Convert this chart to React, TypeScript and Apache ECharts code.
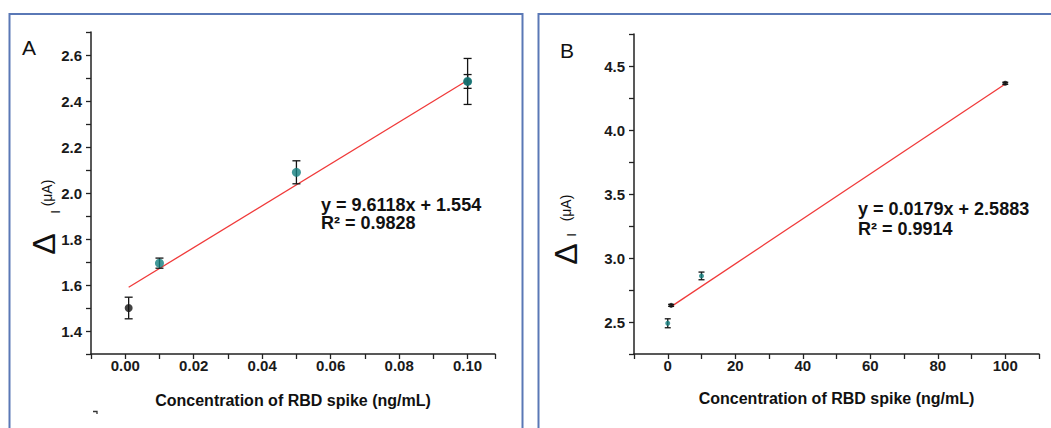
import React, { useEffect, useRef } from "react";
import * as echarts from "echarts";

// Panel A data (concentration in ng/mL, ΔI in µA)
const aTealConc = [0.01, 0.05, 0.1];
const aTealSignal = [1.695, 2.09, 2.485];
const aTealErr = [0.022, 0.05, 0.03];
const aBlackConc = [0.001, 0.1];
const aBlackSignal = [1.5, 2.485];
const aBlackErr = [0.047, 0.1];
const aFitX = [0.001, 0.1];
const aFitY = [1.59, 2.49];
const aEquation = ["y = 9.6118x + 1.554", "R² = 0.9828"];

// Panel B data
const bTealConc = [0, 10];
const bTealSignal = [2.49, 2.86];
const bTealErr = [0.035, 0.03];
const bBlackConc = [1, 100];
const bBlackSignal = [2.63, 4.365];
const bBlackErr = [0.008, 0.008];
const bFitX = [1, 100];
const bFitY = [2.62, 4.36];
const bEquation = ["y = 0.0179x + 2.5883", "R² = 0.9914"];

const xName = "Concentration of RBD spike (ng/mL)";

const FONT = "'Liberation Sans', Arial, sans-serif";
const TEAL = "#14807f";
const BLACK = "#141414";
const RED = "#f03a3a";
const FRAME = "#5a78b6";

function zip3(x: number[], y: number[], e: number[]) {
  return x.map((v, i) => [v, y[i], e[i]]);
}

function errorSeries(data: number[][], idx: number, hw: number, color: string) {
  return {
    type: "custom",
    xAxisIndex: idx,
    yAxisIndex: idx,
    data,
    encode: { x: 0, y: 1 },
    z: 3,
    renderItem: (params: any, api: any) => {
      const x = api.value(0);
      const y = api.value(1);
      const e = api.value(2);
      const top = api.coord([x, y + e]);
      const bot = api.coord([x, y - e]);
      const st = { stroke: color, lineWidth: 1.3 };
      return {
        type: "group",
        children: [
          { type: "line", shape: { x1: top[0], y1: top[1], x2: bot[0], y2: bot[1] }, style: st },
          { type: "line", shape: { x1: top[0] - hw, y1: top[1], x2: top[0] + hw, y2: top[1] }, style: st },
          { type: "line", shape: { x1: bot[0] - hw, y1: bot[1], x2: bot[0] + hw, y2: bot[1] }, style: st },
        ],
      };
    },
  };
}

const axisCommon = {
  axisLine: { show: true, onZero: false, lineStyle: { color: "#222", width: 1.5 } },
  axisTick: { show: true, inside: false, length: 5, lineStyle: { color: "#222", width: 1.3 } },
  splitLine: { show: false },
};

const labelStyle = {
  fontFamily: FONT,
  fontWeight: "bold" as const,
  fontSize: 15,
  color: "#1a1a1a",
};

export default function App() {
  const ref = useRef<HTMLDivElement>(null);

  useEffect(() => {
    if (!ref.current) return;
    const chart = echarts.init(ref.current, null, { renderer: "svg" });

    const textEl = (text: string, x: number, y: number, size: number, weight: string, align = "left") => ({
      type: "text",
      x,
      y,
      style: {
        text,
        fontFamily: FONT,
        fontSize: size,
        fontWeight: weight,
        fill: "#111",
        textAlign: align,
        textVerticalAlign: "middle",
      },
    });

    const rotText = (text: string, x: number, y: number, size: number) => ({
      type: "text",
      x,
      y,
      rotation: Math.PI / 2,
      style: { text, fontFamily: FONT, fontSize: size, fill: "#111", textAlign: "center", textVerticalAlign: "middle" },
    });

    const option: any = {
      animation: false,
      grid: [
        { left: 91, top: 32, width: 404, height: 322 },
        { left: 634, top: 34, width: 405, height: 320 },
      ],
      xAxis: [
        {
          gridIndex: 0,
          type: "value",
          min: -0.01,
          max: 0.108,
          interval: 0.01,
          ...axisCommon,
          axisLabel: {
            ...labelStyle,
            margin: 4,
            showMinLabel: true,
            showMaxLabel: true,
            formatter: (v: number) => {
              const k = Math.round(v * 100);
              if (Math.abs(v * 100 - k) > 1e-6 || k < 0 || k > 10 || k % 2 !== 0) return "";
              return v.toFixed(2);
            },
          },
          name: xName,
          nameLocation: "middle",
          nameGap: 38,
          nameTextStyle: { fontFamily: FONT, fontSize: 16, fontWeight: "bold", color: "#111" },
        },
        {
          gridIndex: 1,
          type: "value",
          min: -10,
          max: 110,
          interval: 10,
          ...axisCommon,
          axisLabel: {
            ...labelStyle,
            margin: 4,
            formatter: (v: number) => {
              const k = Math.round(v);
              if (k < 0 || k > 100 || k % 20 !== 0) return "";
              return String(k);
            },
          },
          name: xName,
          nameLocation: "middle",
          nameGap: 36,
          nameTextStyle: { fontFamily: FONT, fontSize: 16, fontWeight: "bold", color: "#111" },
        },
      ],
      yAxis: [
        {
          gridIndex: 0,
          type: "value",
          min: 1.3,
          max: 2.7,
          interval: 0.1,
          ...axisCommon,
          axisLabel: {
            ...labelStyle,
            margin: 9,
            formatter: (v: number) => {
              const k = Math.round(v * 10);
              if (k % 2 !== 0 || k < 14 || k > 26) return "";
              return (k / 10).toFixed(1);
            },
          },
        },
        {
          gridIndex: 1,
          type: "value",
          min: 2.25,
          max: 4.75,
          interval: 0.25,
          ...axisCommon,
          axisLabel: {
            ...labelStyle,
            margin: 9,
            formatter: (v: number) => {
              const k = Math.round(v * 4);
              if (k % 2 !== 0 || k < 10 || k > 18) return "";
              return (k / 4).toFixed(1);
            },
          },
        },
      ],
      series: [
        {
          type: "line",
          xAxisIndex: 0,
          yAxisIndex: 0,
          data: aFitX.map((x, i) => [x, aFitY[i]]),
          showSymbol: false,
          lineStyle: { color: RED, width: 1.3 },
          z: 2,
        },
        errorSeries(zip3(aBlackConc, aBlackSignal, aBlackErr), 0, 4, BLACK),
        errorSeries(zip3(aTealConc, aTealSignal, aTealErr), 0, 4, BLACK),
        {
          type: "scatter",
          xAxisIndex: 0,
          yAxisIndex: 0,
          data: aBlackConc.map((x, i) => [x, aBlackSignal[i]]),
          symbolSize: 8,
          itemStyle: { color: BLACK },
          z: 4,
        },
        {
          type: "scatter",
          xAxisIndex: 0,
          yAxisIndex: 0,
          data: aTealConc.map((x, i) => [x, aTealSignal[i]]),
          symbolSize: 9,
          itemStyle: { color: TEAL },
          z: 5,
        },
        {
          type: "line",
          xAxisIndex: 1,
          yAxisIndex: 1,
          data: bFitX.map((x, i) => [x, bFitY[i]]),
          showSymbol: false,
          lineStyle: { color: RED, width: 1.3 },
          z: 2,
        },
        errorSeries(zip3(bBlackConc, bBlackSignal, bBlackErr), 1, 3, BLACK),
        errorSeries(zip3(bTealConc, bTealSignal, bTealErr), 1, 3, BLACK),
        {
          type: "scatter",
          xAxisIndex: 1,
          yAxisIndex: 1,
          data: bBlackConc.map((x, i) => [x, bBlackSignal[i]]),
          symbolSize: 5,
          itemStyle: { color: BLACK },
          z: 4,
        },
        {
          type: "scatter",
          xAxisIndex: 1,
          yAxisIndex: 1,
          data: bTealConc.map((x, i) => [x, bTealSignal[i]]),
          symbolSize: 5,
          itemStyle: { color: TEAL },
          z: 5,
        },
      ],
      graphic: [
        {
          type: "rect",
          shape: { x: 9.5, y: 14, width: 513, height: 430 },
          style: { fill: "none", stroke: FRAME, lineWidth: 2 },
          silent: true,
        },
        {
          type: "rect",
          shape: { x: 538.5, y: 14, width: 530, height: 430 },
          style: { fill: "none", stroke: FRAME, lineWidth: 2 },
          silent: true,
        },
        {
          type: "polyline",
          shape: { points: [[93, 411.5], [97, 411.5], [97, 414]] },
          style: { fill: "none", stroke: "#333", lineWidth: 1.3 },
          silent: true,
        },
        textEl("A", 22, 47, 21, "normal"),
        textEl("B", 560, 50, 21, "normal"),
        // y-axis titles (rotated)
        rotText("Δ", 44, 244, 32),
        rotText("(μA)", 47, 193, 14),
        rotText("I", 55, 212, 13),
        rotText("Δ", 566, 254, 32),
        rotText("(μA)", 566, 208, 14),
        rotText("I", 571, 235, 13),
        textEl(aEquation[0], 321, 205, 18, "bold"),
        textEl(aEquation[1], 321, 223, 18, "bold"),
        textEl(bEquation[0], 858, 209, 18, "bold"),
        textEl(bEquation[1], 858, 229, 18, "bold"),
      ],
    };

    chart.setOption(option);
    return () => chart.dispose();
  }, []);

  return (
    <div
      ref={ref}
      style={{ position: "fixed", left: 0, top: 0, width: 1051, height: 428, background: "#fff" }}
    />
  );
}
